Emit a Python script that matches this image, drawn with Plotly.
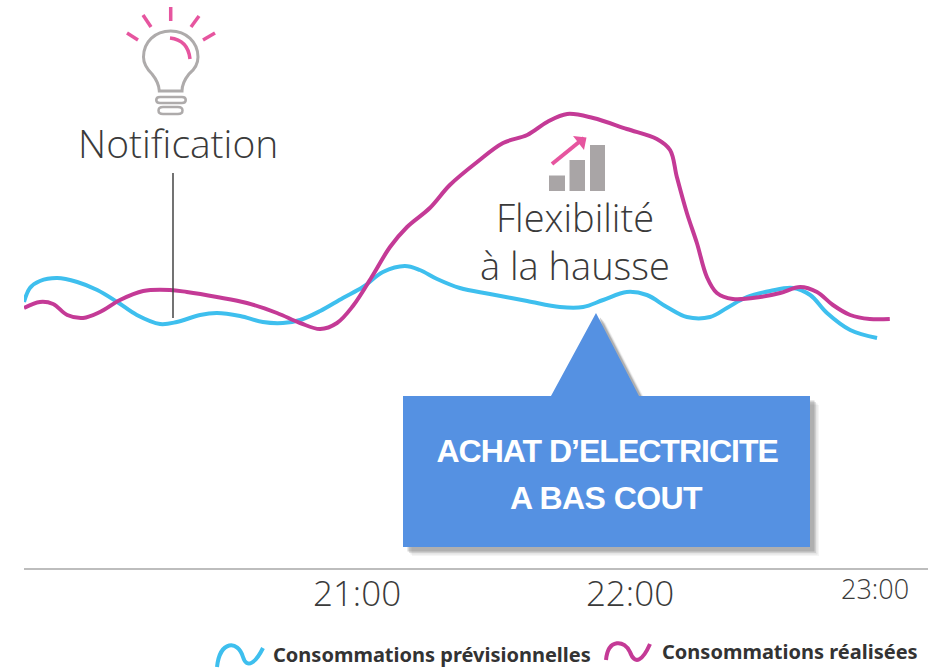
import re
import plotly.graph_objects as go

# Time is in minutes relative to 21:00; the load has no printed scale, so units are relative.
forecast_time = [-73.2,-71.9,-69.7,-65.9,-61.5,-57.1,-52.7,-48.4,-43.3,-39.6,-34.5,-30.8,-25.7,-20.7,-16.3,-12.5,-8.1,-3.1,1.3,5.7,10.5,13.8,17.6,22.6,29.2,37.4,44.6,49.7,54.1,59.3,63.7,68.1,72.5,77.6,81.3,85.7,90.8,95.8,99.6,103.3,108.4,114.3]
forecast_load = [2.66,2.80,2.87,2.90,2.86,2.78,2.66,2.53,2.44,2.46,2.53,2.55,2.52,2.46,2.45,2.48,2.57,2.70,2.81,2.96,3.02,2.98,2.89,2.80,2.74,2.67,2.61,2.61,2.68,2.76,2.73,2.61,2.51,2.51,2.60,2.71,2.77,2.80,2.73,2.55,2.38,2.30]
actual_time = [-73.2,-69.7,-66.8,-63.7,-60.2,-56.5,-52.1,-47.0,-41.1,-37.4,-30.8,-24.2,-17.6,-12.5,-8.1,-4.4,-0.9,3.5,7.25,11.0,16.0,20.4,26.4,32.1,37.4,41.8,46.2,51.9,59.3,65.9,68.8,70.3,72.5,74.7,76.9,79.1,82.6,88.6,93.0,97.4,101.1,104.6,108.4,112.7,117.1]
actual_load = [2.60,2.66,2.64,2.53,2.50,2.56,2.68,2.77,2.78,2.76,2.71,2.65,2.55,2.45,2.39,2.45,2.62,2.93,3.21,3.41,3.60,3.83,4.06,4.25,4.33,4.46,4.54,4.50,4.39,4.29,4.18,3.91,3.55,3.25,2.91,2.75,2.69,2.71,2.75,2.81,2.76,2.63,2.53,2.49,2.49]
tick_values = [0, 60]
tick_labels = ["21:00", "22:00"]
last_tick_label = "23:00"
series_names = ["Consommations prévisionnelles", "Consommations réalisées"]
notification_label = "Notification"
flex_label = ["Flexibilité", "à la hausse"]
callout_label = ["ACHAT D’ELECTRICITE", "A BAS COUT"]

W, H = 928, 668
LEFT, BOTTOM_AXIS = 24, 568
CYAN, MAGENTA, PINK, GREY, BLUE = "#3ebfee", "#c43a96", "#e6559f", "#aeabab", "#5591e2"
LIGHT = "Open Sans"
TEXT = "#3a3a3a"


def X(px):
    return (px - LEFT) / (W - LEFT)


def Y(py):
    return 1 - py / BOTTOM_AXIS


def path(d):
    """Turn a pixel-placed decoration path into paper coordinates."""
    tokens = re.findall(r"[MLCQZ]|-?[\d.]+", d)
    out, is_x = [], True
    for t in tokens:
        if t.isalpha():
            out.append(t)
            is_x = True
        else:
            out.append(f"{X(float(t)) if is_x else Y(float(t)):.5f}")
            is_x = not is_x
    return " ".join(out)


def deco(d, line=None, width=0, fill=None, opacity=1, layer="above"):
    return dict(type="path", xref="paper", yref="paper", path=path(d), opacity=opacity, layer=layer,
                line=dict(color=line or "rgba(0,0,0,0)", width=width),
                fillcolor=fill or "rgba(0,0,0,0)")


def label(txt, px, py, size, color=TEXT, family=LIGHT, weight=300):
    return dict(text=txt, x=X(px), y=Y(py), xref="paper", yref="paper", showarrow=False,
                xanchor="center", yanchor="middle",
                font=dict(family=family, size=size, color=color, weight=weight))


shapes = []
# light bulb
shapes.append(deco("M159.3 91 C159 84 156 79 152 74 C147 69 143.5 64 143.5 57 C143.5 42 155 31 170.7 31 "
                   "C186 31 198 42 198 57 C198 64 194 70 189 74 C185 79 182 84 182 91 Z", GREY, 3))
shapes.append(deco("M160 97 L182 97 C187 97 187 103 182 103 L160 103 C155 103 155 97 160 97 Z", GREY, 2.5))
shapes.append(deco("M163 107 L178 107 C184 107 184 114 178 114 L163 114 C157 114 157 107 163 107 Z", GREY, 2.5))
for a in ["M170.7 7 L170.7 21", "M143 15 L151 27", "M199 16 L191 27", "M127 33 L138 40", "M215 33 L203 40"]:
    shapes.append(deco(a, PINK, 3.5))
shapes.append(deco("M170 38 Q188 40 190 59", PINK, 3.5))
# notification stem
shapes.append(deco("M173 173 L173 318", "#444444", 1.5))
# bars and arrow icon
for x0, x1, y0 in [(549, 565, 175.5), (569.5, 585, 160), (590, 605, 145)]:
    shapes.append(deco(f"M{x0} {y0} L{x1} {y0} L{x1} 191 L{x0} 191 Z", fill="#a9a5a6"))
shapes.append(deco("M552 164 L584 138", PINK, 4))
shapes.append(deco("M573 136 L586.5 137.5 L584 150 Z", fill=PINK))
# callout with soft shadow
callout = "M403 396 L551 396 L596 313 L639 396 L810 396 L810 547 L403 547 Z"
for off, op in [(9, .06), (7.5, .1), (6, .16), (4.5, .25)]:
    sh = ("M{} {} L{} {} L{} {} L{} {} L{} {} L{} {} L{} {} Z").format(
        403+off, 396+off, 551+off, 396+off, 596+off, 313+off, 639+off, 396+off,
        810+off, 396+off, 810+off, 547+off, 403+off, 547+off)
    shapes.append(deco(sh, fill="#555555", opacity=op))
shapes.append(deco(callout, fill=BLUE))
# legend keys
shapes.append(deco("M217 667 C220 640 238 640 243 657 C247 670 256 662 263 648", CYAN, 4))
shapes.append(deco("M606 660 C608 638 625 640 630 652 C635 666 643 660 650 644", MAGENTA, 4))

annotations = [
    label(notification_label, 178, 142, 39),
    label(flex_label[0], 575, 217, 38),
    label(flex_label[1], 575, 265, 38),
    label(callout_label[0], 607, 451, 32, "white", "Liberation Sans", 700),
    label(callout_label[1], 606, 498, 32, "white", "Liberation Sans", 700),
    label(last_tick_label, 875, 588, 27),
    label(series_names[0], 432, 654, 20, "#333333", "Noto Sans", 700),
    label(series_names[1], 790, 651, 20, "#333333", "Noto Sans", 700),
]

fig = go.Figure()
fig.add_trace(go.Scatter(x=forecast_time, y=forecast_load, name=series_names[0], mode="lines",
                         line=dict(color=CYAN, width=4, shape="spline", smoothing=1.0)))
fig.add_trace(go.Scatter(x=actual_time, y=actual_load, name=series_names[1], mode="lines",
                         line=dict(color=MAGENTA, width=4, shape="spline", smoothing=1.0)))
fig.update_layout(
    width=W, height=H, margin=dict(l=LEFT, r=0, t=0, b=H - BOTTOM_AXIS),
    paper_bgcolor="white", plot_bgcolor="white", showlegend=False,
    shapes=shapes, annotations=annotations,
    xaxis=dict(range=[-73.2, 125.5], tickvals=tick_values, ticktext=tick_labels, ticks="", showgrid=False,
               zeroline=False, showline=True, linecolor="#bdbdbd", linewidth=2, ticklabelstandoff=-6,
               tickfont=dict(family=LIGHT, size=35, color=TEXT, weight=300)),
    yaxis=dict(range=[0, 5.68], visible=False),
)
post = """
document.body.style.margin = '0';
document.body.style.overflow = 'hidden';
document.querySelectorAll('.annotation-text').forEach(function (t) {
  if (t.textContent.indexOf('ACHAT') === 0) { t.style.letterSpacing = '-1px'; }
  if (t.textContent.indexOf('A BAS') === 0) { t.style.letterSpacing = '-0.6px'; }
});
"""
fig.write_html("out.html", post_script=post, config={"displayModeBar": False})
